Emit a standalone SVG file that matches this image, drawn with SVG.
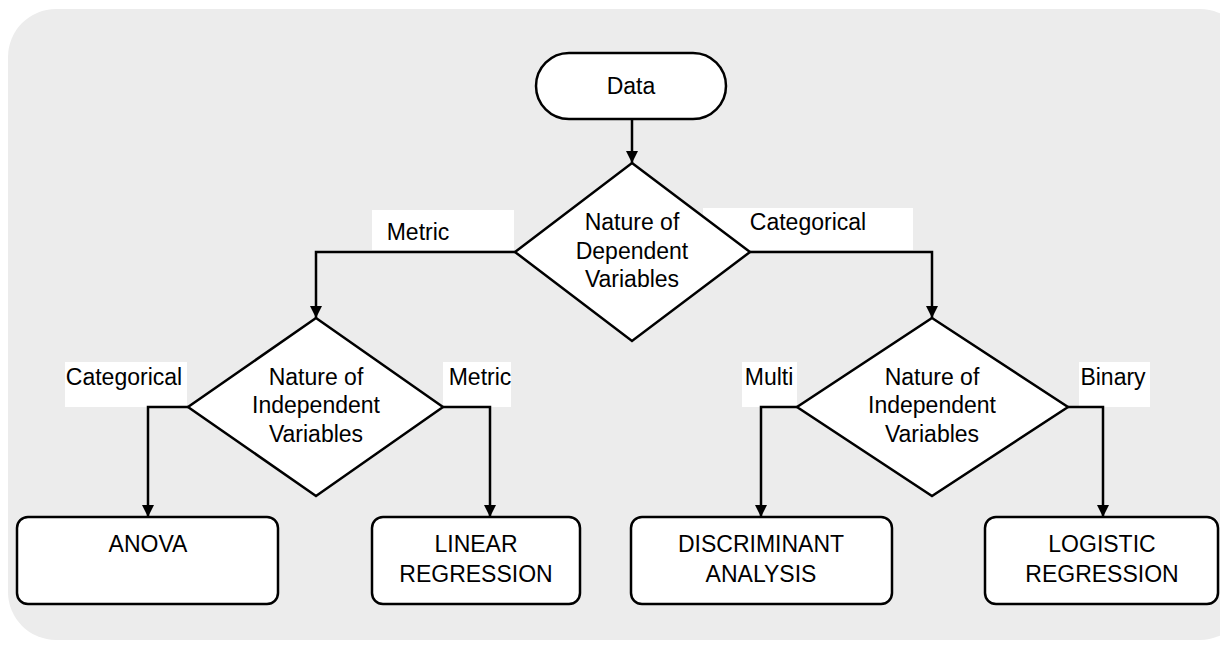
<svg xmlns="http://www.w3.org/2000/svg" width="1220" height="648" viewBox="0 0 1220 648">
<defs>
<style>
.t{font-family:"Liberation Sans",Arial,sans-serif;font-size:23px;fill:#000;text-anchor:middle}
.shape{fill:#fff;stroke:#000;stroke-width:2.5}
.conn{fill:none;stroke:#000;stroke-width:2.5}
.lbl{fill:#fff}
</style>
<marker id="arr" viewBox="0 0 10 10" refX="10" refY="5" markerWidth="15" markerHeight="12" markerUnits="userSpaceOnUse" orient="auto">
<path d="M0,0 L10,5 L0,10 Z" fill="#000"/>
</marker>
</defs>
<rect x="8" y="9" width="1240" height="631" rx="48" fill="#ececec"/>

<g id="labels">
<rect class="lbl" x="372" y="210" width="142" height="40"/>
<text class="t" x="418" y="240">Metric</text>
<rect class="lbl" x="703" y="208" width="210" height="42"/>
<text class="t" x="808" y="230">Categorical</text>
<rect class="lbl" x="65" y="362" width="122" height="45"/>
<text class="t" x="124" y="385">Categorical</text>
<rect class="lbl" x="443" y="362" width="68" height="45"/>
<text class="t" x="480" y="385">Metric</text>
<rect class="lbl" x="742" y="362" width="55" height="45"/>
<text class="t" x="769" y="385">Multi</text>
<rect class="lbl" x="1079" y="362" width="71" height="45"/>
<text class="t" x="1113" y="385">Binary</text>
</g>

<g id="connectors">
<line class="conn" x1="632" y1="119" x2="632" y2="163" marker-end="url(#arr)"/>
<polyline class="conn" points="515,252 316,252 316,318" marker-end="url(#arr)"/>
<polyline class="conn" points="750,252 932,252 932,318" marker-end="url(#arr)"/>
<polyline class="conn" points="188,407 148,407 148,517" marker-end="url(#arr)"/>
<polyline class="conn" points="443,407 490,407 490,517" marker-end="url(#arr)"/>
<polyline class="conn" points="797,407 761,407 761,517" marker-end="url(#arr)"/>
<polyline class="conn" points="1068,407 1103,407 1103,517" marker-end="url(#arr)"/>
</g>

<g id="data">
<rect class="shape" x="536" y="53" width="190" height="66" rx="33"/>
<text class="t" x="631" y="94">Data</text>
</g>

<g id="dependent">
<polygon class="shape" points="632,163 750,252 632,341 515,252"/>
<text class="t" x="632" y="230">Nature of</text>
<text class="t" x="632" y="259">Dependent</text>
<text class="t" x="632" y="287">Variables</text>
</g>

<g id="independent-left">
<polygon class="shape" points="316,318 443,407 316,496 188,407"/>
<text class="t" x="316" y="385">Nature of</text>
<text class="t" x="316" y="413">Independent</text>
<text class="t" x="316" y="442">Variables</text>
</g>

<g id="independent-right">
<polygon class="shape" points="932,318 1068,407 932,496 797,407"/>
<text class="t" x="932" y="385">Nature of</text>
<text class="t" x="932" y="413">Independent</text>
<text class="t" x="932" y="442">Variables</text>
</g>

<g id="anova">
<rect class="shape" x="17" y="517" width="261" height="87" rx="11"/>
<text class="t" x="148" y="552">ANOVA</text>
</g>

<g id="linear">
<rect class="shape" x="372" y="517" width="208" height="87" rx="11"/>
<text class="t" x="476" y="552">LINEAR</text>
<text class="t" x="476" y="582">REGRESSION</text>
</g>

<g id="discriminant">
<rect class="shape" x="631" y="517" width="261" height="87" rx="11"/>
<text class="t" x="761" y="552">DISCRIMINANT</text>
<text class="t" x="761" y="582">ANALYSIS</text>
</g>

<g id="logistic">
<rect class="shape" x="985" y="517" width="233" height="87" rx="11"/>
<text class="t" x="1102" y="552">LOGISTIC</text>
<text class="t" x="1102" y="582">REGRESSION</text>
</g>
</svg>
